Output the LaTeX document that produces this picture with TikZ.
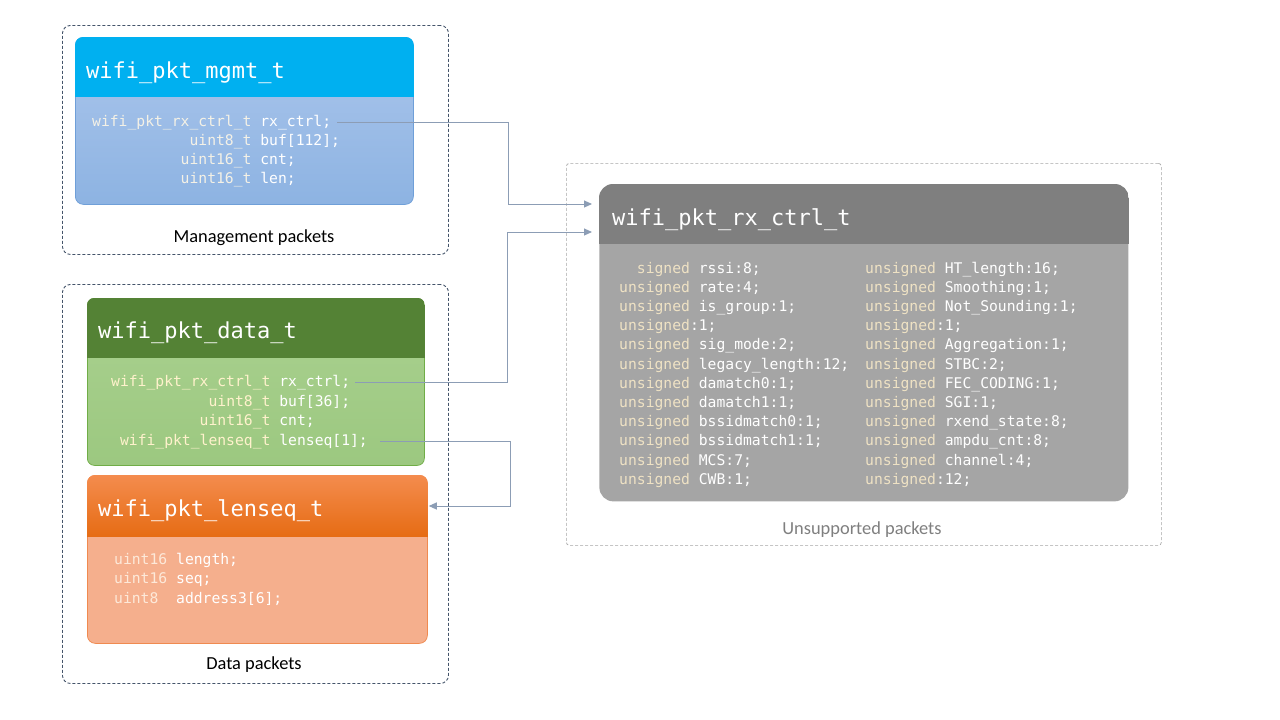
\documentclass[tikz,border=0pt]{standalone}
\usepackage{fontspec}
\setmainfont{Carlito}
\newfontfamily\codefont{DejaVu Sans Mono}
\usetikzlibrary{arrows.meta,calc}

\definecolor{mgmthdr}{HTML}{00B0F0}
\definecolor{mgmttop}{HTML}{ABC6EC}
\definecolor{mgmtbot}{HTML}{8DB3E2}
\definecolor{mgmtline}{HTML}{6F9FD8}
\definecolor{datahdr}{HTML}{548235}
\definecolor{datatop}{HTML}{AAD190}
\definecolor{databot}{HTML}{9CC880}
\definecolor{dataline}{HTML}{70AD47}
\definecolor{lenhdrtop}{HTML}{F48C4E}
\definecolor{lenhdrbot}{HTML}{E66C14}
\definecolor{lenbody}{HTML}{F5AF8D}
\definecolor{lenline}{HTML}{F08A50}
\definecolor{rxhdr}{HTML}{7F7F7F}
\definecolor{rxbody}{HTML}{A5A5A5}
\definecolor{grpc}{HTML}{44546A}
\definecolor{unsc}{HTML}{A6A6A6}
\definecolor{unstext}{HTML}{7F7F7F}
\definecolor{connc}{HTML}{8C9DB5}
\definecolor{typeA}{HTML}{F4F1E6}
\definecolor{typeB}{HTML}{FFF2CC}
\definecolor{typeC}{HTML}{FDE9D9}
\definecolor{typeD}{HTML}{EFE2C4}

\newcommand\tya[1]{\textcolor{typeA}{#1}}
\newcommand\tyb[1]{\textcolor{typeB}{#1}}
\newcommand\tyc[1]{\textcolor{typeC}{#1}}
\newcommand\tyd[1]{\textcolor{typeD}{#1}}

\tikzset{
  grp/.style={draw=grpc, dash pattern=on 3pt off 2pt, line width=0.9pt, rounded corners=8pt, inner sep=0pt, anchor=north west},
  unsgrp/.style={draw=unsc, dash pattern=on 3pt off 2pt, line width=0.7pt, rounded corners=3pt, inner sep=0pt, anchor=north west},
  pkbox/.style={rectangle, rounded corners=8pt, inner sep=0pt, line width=0.75pt, anchor=north west},
  ttl/.style={font=\codefont\fontsize{22pt}{26pt}\selectfont, inner sep=0pt, text=white, anchor=base west},
  code/.style={font=\codefont\fontsize{14.7pt}{19pt}\selectfont, inner sep=0pt, text=white, anchor=base west},
  lbl/.style={font=\fontsize{18.4pt}{22pt}\selectfont, inner sep=0pt, anchor=base},
  conn/.style={draw=connc, line width=1pt, -{Triangle[length=8pt,width=7pt]}}
}

\begin{document}
\begin{tikzpicture}[x=1pt,y=-1pt]
\useasboundingbox (0,0) rectangle (1280,720);
\fill[white] (0,0) rectangle (1280,720);

% group frames
\node[grp, minimum width=386pt, minimum height=229pt] (mgmtgrp) at (62,25) {};
\node[grp, minimum width=386pt, minimum height=399pt] (datagrp) at (62,284) {};
\node[unsgrp, minimum width=595pt, minimum height=382pt] (unsgrp) at (566,163) {};

\node[lbl] (mgmtlbl) at (254,242) {Management packets};
\node[lbl] (datalbl) at (254,669) {Data packets};
\node[lbl, text=unstext] (unslbl) at (862,534) {Unsupported packets};

% ---------- wifi_pkt_mgmt_t ----------
\node[pkbox, draw=mgmtline, top color=mgmttop, bottom color=mgmtbot, minimum width=338pt, minimum height=167pt] (mgmt) at (75,37) {};
\begin{scope}
  \clip[rounded corners=8pt] (mgmt.north west) rectangle (mgmt.south east);
  \fill[mgmthdr] (mgmt.north west) rectangle ([yshift=-60pt]mgmt.north east);
\end{scope}
\node[ttl] (mgmtttl) at ([xshift=11pt,yshift=-41pt]mgmt.north west) {wifi\_pkt\_mgmt\_t};
\node[code] (m1) at (92,126) {\tya{wifi\_pkt\_rx\_ctrl\_t} rx\_ctrl;};
\node[code] (m2) at (92,145) {\hphantom{00000000000}\tya{uint8\_t} buf[112];};
\node[code] (m3) at (92,164) {\hphantom{0000000000}\tya{uint16\_t} cnt;};
\node[code] (m4) at (92,183) {\hphantom{0000000000}\tya{uint16\_t} len;};

% ---------- wifi_pkt_data_t ----------
\node[pkbox, rounded corners=7pt, draw=dataline, top color=datatop, bottom color=databot, minimum width=337pt, minimum height=167pt] (data) at (87,298) {};
\begin{scope}
  \clip[rounded corners=7pt] (data.north west) rectangle (data.south east);
  \fill[datahdr] (data.north west) rectangle ([yshift=-60pt]data.north east);
\end{scope}
\node[ttl] (datattl) at ([xshift=11pt,yshift=-40pt]data.north west) {wifi\_pkt\_data\_t};
\node[code] (d1) at (111,386.5) {\tyb{wifi\_pkt\_rx\_ctrl\_t} rx\_ctrl;};
\node[code] (d2) at (111,406) {\hphantom{00000000000}\tyb{uint8\_t} buf[36];};
\node[code] (d3) at (111,425.5) {\hphantom{0000000000}\tyb{uint16\_t} cnt;};
\node[code] (d4) at (111,445) {\hphantom{0}\tyb{wifi\_pkt\_lenseq\_t} lenseq[1];};

% ---------- wifi_pkt_lenseq_t ----------
\node[pkbox, draw=lenline, fill=lenbody, minimum width=340pt, minimum height=168pt] (len) at (87,475) {};
\begin{scope}
  \clip[rounded corners=8pt] (len.north west) rectangle (len.south east);
  \shade[top color=lenhdrtop, bottom color=lenhdrbot] (len.north west) rectangle ([yshift=-61pt]len.north east);
\end{scope}
\node[ttl] (lenttl) at ([xshift=11pt,yshift=-41pt]len.north west) {wifi\_pkt\_lenseq\_t};
\node[code] (l1) at (114,564) {\tyc{uint16} length;};
\node[code] (l2) at (114,583.5) {\tyc{uint16} seq;};
\node[code] (l3) at (114,603) {\tyc{uint8}\hphantom{0} address3[6];};

% ---------- wifi_pkt_rx_ctrl_t ----------
\node[pkbox, rounded corners=14pt, fill=rxbody, minimum width=529pt, minimum height=317pt] (rx) at (599,184) {};
\begin{scope}
  \clip[rounded corners=14pt] (rx.north west) rectangle (rx.south east);
  \fill[rxhdr] (rx.north west) rectangle ([yshift=-60pt]rx.north east);
\end{scope}
\node[ttl] (rxttl) at ([xshift=13pt,yshift=-41pt]rx.north west) {wifi\_pkt\_rx\_ctrl\_t};

\foreach \t [count=\i from 0] in {
  {\hphantom{00}\tyd{signed} rssi:8;},
  {\tyd{unsigned} rate:4;},
  {\tyd{unsigned} is\_group:1;},
  {\tyd{unsigned}:1;},
  {\tyd{unsigned} sig\_mode:2;},
  {\tyd{unsigned} legacy\_length:12;},
  {\tyd{unsigned} damatch0:1;},
  {\tyd{unsigned} damatch1:1;},
  {\tyd{unsigned} bssidmatch0:1;},
  {\tyd{unsigned} bssidmatch1:1;},
  {\tyd{unsigned} MCS:7;},
  {\tyd{unsigned} CWB:1;}}
  \node[code] (ra\i) at (619,273+19.2*\i) {\t};

\foreach \t [count=\i from 0] in {
  {\tyd{unsigned} HT\_length:16;},
  {\tyd{unsigned} Smoothing:1;},
  {\tyd{unsigned} Not\_Sounding:1;},
  {\tyd{unsigned}:1;},
  {\tyd{unsigned} Aggregation:1;},
  {\tyd{unsigned} STBC:2;},
  {\tyd{unsigned} FEC\_CODING:1;},
  {\tyd{unsigned} SGI:1;},
  {\tyd{unsigned} rxend\_state:8;},
  {\tyd{unsigned} ampdu\_cnt:8;},
  {\tyd{unsigned} channel:4;},
  {\tyd{unsigned}:12;}}
  \node[code] (rb\i) at (865,273+19.2*\i) {\t};

% ---------- connectors ----------
\draw[conn] ([xshift=6pt]m1.east) -- ++(171,0) |- ([xshift=-7pt,yshift=-20pt]rx.north west);
\draw[conn] ([xshift=5pt]d1.east) -- ++(152,0) |- ([xshift=-7pt,yshift=-48pt]rx.north west);
\draw[conn] ([xshift=12pt]d4.east) -- ++(130,0) |- ([xshift=1pt,yshift=-31pt]len.north east);

\end{tikzpicture}
\end{document}
